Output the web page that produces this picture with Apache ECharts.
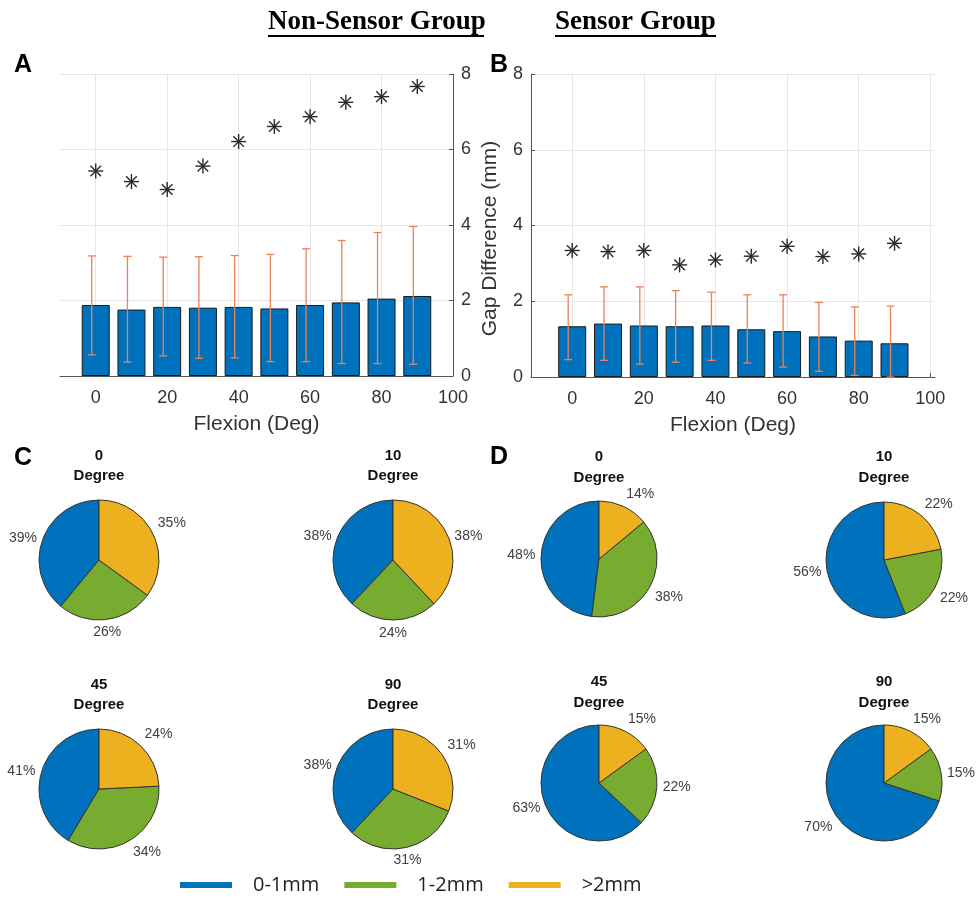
<!DOCTYPE html>
<html><head><meta charset="utf-8">
<script src="https://cdn.jsdelivr.net/npm/echarts@6/dist/echarts.min.js"></script>
<style>html,body{margin:0;padding:0;background:#fff}#c{width:977px;height:900px}</style>
</head><body><div id="c"></div>
<script>
// ---- data ----
const flexion = [0, 10, 20, 30, 40, 50, 60, 70, 80, 90];
const xTickValues = [0, 20, 40, 60, 80, 100];
const meanA = [1.88, 1.76, 1.83, 1.81, 1.83, 1.79, 1.88, 1.95, 2.05, 2.12];
const lowA  = [0.56, 0.37, 0.53, 0.47, 0.48, 0.38, 0.38, 0.33, 0.33, 0.31];
const highA = [3.18, 3.17, 3.15, 3.16, 3.19, 3.22, 3.37, 3.59, 3.80, 3.96];
const maxA  = [5.43, 5.15, 4.94, 5.56, 6.21, 6.61, 6.87, 7.25, 7.40, 7.67];
const meanB = [1.34, 1.41, 1.36, 1.34, 1.36, 1.26, 1.21, 1.07, 0.96, 0.89];
const lowB  = [0.46, 0.44, 0.34, 0.39, 0.44, 0.37, 0.26, 0.15, 0.04, 0.00];
const highB = [2.17, 2.38, 2.38, 2.28, 2.24, 2.17, 2.17, 1.97, 1.85, 1.87];
const maxB  = [3.34, 3.31, 3.34, 2.96, 3.09, 3.19, 3.45, 3.18, 3.25, 3.53];
const pieNames  = ['0-1mm', '1-2mm', '>2mm'];
const pieColors = ['#0072BD', '#77AC30', '#EDB120'];
const pieTitles = ['0', '10', '45', '90'];
const pieC = [[39, 26, 35], [38, 24, 38], [41, 34, 24], [38, 31, 31]];
const pieD = [[48, 38, 14], [56, 22, 22], [63, 22, 15], [70, 15, 15]];

// ---- layout ----
const tickFont = {fontFamily: 'Liberation Sans', fontSize: 18, color: '#333'};
const pieLayoutC = {centers: [[99, 560], [393, 560], [99, 789], [393, 789]], r: 60};
const pieLayoutD = {centers: [[599, 559], [884, 560], [599, 783], [884, 783]], r: 58};

function errRender(params, api) {
  const x = api.value(0), lo = api.value(1), hi = api.value(2);
  const pLo = api.coord([x, lo]), pHi = api.coord([x, hi]);
  const cx = pLo[0] - 4, cap = 4;
  const style = {stroke: '#E8845A', lineWidth: 1.3};
  return {type: 'group', children: [
    {type: 'line', shape: {x1: cx, y1: pLo[1], x2: cx, y2: pHi[1]}, style},
    {type: 'line', shape: {x1: cx - cap, y1: pHi[1], x2: cx + cap, y2: pHi[1]}, style},
    {type: 'line', shape: {x1: cx - cap, y1: pLo[1], x2: cx + cap, y2: pLo[1]}, style}
  ]};
}
function starRender(params, api) {
  const p = api.coord([api.value(0), api.value(1)]);
  const r = 7.5, d = r * 0.7071;
  const style = {stroke: '#2a2a2a', lineWidth: 1.4};
  const L = (a, b, c, e) => ({type: 'line', shape: {x1: a, y1: b, x2: c, y2: e}, style});
  return {type: 'group', children: [
    L(p[0] - r, p[1], p[0] + r, p[1]),
    L(p[0], p[1] - r, p[0], p[1] + r),
    L(p[0] - d, p[1] - d, p[0] + d, p[1] + d),
    L(p[0] - d, p[1] + d, p[0] + d, p[1] - d)
  ]};
}

function xAxisCfg(gridIndex, min, max) {
  return {
    type: 'value', gridIndex, min, max,
    name: 'Flexion (Deg)', nameLocation: 'middle', nameGap: 38,
    nameTextStyle: {fontFamily: 'Liberation Sans', fontSize: 21, color: '#333'},
    axisLine: {show: true, lineStyle: {color: '#555', width: 1}},
    axisTick: {show: true, inside: true, length: 4, customValues: xTickValues, lineStyle: {color: '#555'}},
    axisLabel: Object.assign({margin: 13, customValues: xTickValues}, tickFont),
    splitLine: {show: true, lineStyle: {color: '#e6e6e6', width: 1}}
  };
}
function yAxisCfg(gridIndex, position, extra) {
  return Object.assign({
    type: 'value', gridIndex, position, min: 0, max: 8, interval: 2,
    axisLine: {show: true, onZero: false, lineStyle: {color: '#555', width: 1}},
    axisTick: {show: true, inside: true, length: 4, lineStyle: {color: '#555'}},
    axisLabel: Object.assign({margin: 8}, tickFont),
    splitLine: {show: true, lineStyle: {color: '#e6e6e6', width: 1}}
  }, extra || {});
}

function barSeries(idx, mean) {
  return {
    type: 'bar', xAxisIndex: idx, yAxisIndex: idx, barWidth: 28,
    data: flexion.map((f, i) => [f, mean[i]]),
    itemStyle: {color: '#0072BD', borderColor: '#1a1a1a', borderWidth: 1},
    silent: true, z: 2
  };
}
function errSeries(idx, lo, hi) {
  return {
    type: 'custom', xAxisIndex: idx, yAxisIndex: idx, renderItem: errRender,
    data: flexion.map((f, i) => [f, lo[i], hi[i]]), encode: {x: 0, y: [1, 2]},
    silent: true, z: 3
  };
}
function starSeries(idx, mx) {
  return {
    type: 'custom', xAxisIndex: idx, yAxisIndex: idx, renderItem: starRender,
    data: flexion.map((f, i) => [f, mx[i]]), encode: {x: 0, y: 1},
    silent: true, z: 4
  };
}

function pieSeries(vals, center, r) {
  const total = vals.reduce((a, b) => a + b, 0);
  return {
    type: 'pie', center, radius: r, startAngle: 90, clockwise: false,
    avoidLabelOverlap: false, silent: true,
    data: vals.map((v, i) => ({name: pieNames[i], value: v, itemStyle: {color: pieColors[i]}})),
    itemStyle: {borderColor: '#333', borderWidth: 1},
    label: {show: true, position: 'outside', formatter: '{c}%', fontFamily: 'Liberation Sans', fontSize: 14, color: '#404040'},
    labelLine: {show: false, length: 6, length2: 0},
    labelLayout: function (p) {
      let cum = 0;
      for (let k = 0; k < p.dataIndex; k++) cum += vals[k];
      const phi = (cum + vals[p.dataIndex] / 2) / total * 2 * Math.PI;
      const ux = -Math.sin(phi), uy = Math.cos(phi);
      const R = r * 1.1;
      const align = Math.abs(ux) < 0.3 ? 'center' : (ux > 0 ? 'left' : 'right');
      const valign = uy > 0.4 ? 'bottom' : (uy < -0.4 ? 'top' : 'middle');
      return {x: center[0] + ux * R, y: center[1] - uy * R, align, verticalAlign: valign};
    }
  };
}

const series = [
  barSeries(0, meanA), errSeries(0, lowA, highA), starSeries(0, maxA),
  barSeries(1, meanB), errSeries(1, lowB, highB), starSeries(1, maxB)
];
pieC.forEach((v, i) => series.push(pieSeries(v, pieLayoutC.centers[i], pieLayoutC.r)));
pieD.forEach((v, i) => series.push(pieSeries(v, pieLayoutD.centers[i], pieLayoutD.r)));

// ---- text graphics ----
const graphics = [];
function txt(x, y, text, font, fill, align, valign) {
  graphics.push({type: 'text', x, y, silent: true,
    style: {text, font, fill: fill || '#000', align: align || 'left', verticalAlign: valign || 'middle'}});
}
function hline(x1, x2, y, w) {
  graphics.push({type: 'line', silent: true, shape: {x1, y1: y, x2, y2: y}, style: {stroke: '#000', lineWidth: w}});
}
txt(268, 22, 'Non-Sensor Group', 'bold 27px "Liberation Serif"', '#000');
hline(268, 484, 36, 2);
txt(555, 22, 'Sensor Group', 'bold 27px "Liberation Serif"', '#000');
hline(555, 716, 36, 2);
txt(14, 65, 'A', 'bold 25px "Liberation Sans"', '#000');
txt(490, 65, 'B', 'bold 25px "Liberation Sans"', '#000');
txt(14, 458, 'C', 'bold 25px "Liberation Sans"', '#000');
txt(490, 457, 'D', 'bold 25px "Liberation Sans"', '#000');
const titleYC = [456, 456, 685, 685], titleYD = [457, 457, 682, 682];
pieTitles.forEach((t, i) => {
  const c = pieLayoutC.centers[i];
  txt(c[0], titleYC[i], t, 'bold 15px "Liberation Sans"', '#111', 'center');
  txt(c[0], titleYC[i] + 20, 'Degree', 'bold 15px "Liberation Sans"', '#111', 'center');
  const d = pieLayoutD.centers[i];
  txt(d[0], titleYD[i], t, 'bold 15px "Liberation Sans"', '#111', 'center');
  txt(d[0], titleYD[i] + 21, 'Degree', 'bold 15px "Liberation Sans"', '#111', 'center');
});

const option = {
  animation: false,
  backgroundColor: '#fff',
  grid: [
    {left: 60, top: 74, width: 393, height: 302},
    {left: 531, top: 74, width: 404, height: 303}
  ],
  xAxis: [xAxisCfg(0, -10, 100), xAxisCfg(1, -11.5, 101.3)],
  yAxis: [
    yAxisCfg(0, 'right'),
    yAxisCfg(1, 'left', {name: 'Gap Difference (mm)', nameLocation: 'middle', nameGap: 30,
      nameTextStyle: {fontFamily: 'Liberation Sans', fontSize: 21, color: '#333', padding: [0, 26, 0, 0]}})
  ],
  legend: {
    left: 175, top: 870, itemWidth: 52, itemHeight: 6, itemGap: 25, icon: 'rect',
    selectedMode: false, data: pieNames,
    itemStyle: {borderWidth: 0},
    textStyle: {fontFamily: 'Open Sans', fontSize: 20, color: '#222', padding: [0, 0, 0, 16]}
  },
  graphic: graphics,
  series
};
const chart = echarts.init(document.getElementById('c'), null, {renderer: 'canvas'});
chart.setOption(option);
</script></body></html>
